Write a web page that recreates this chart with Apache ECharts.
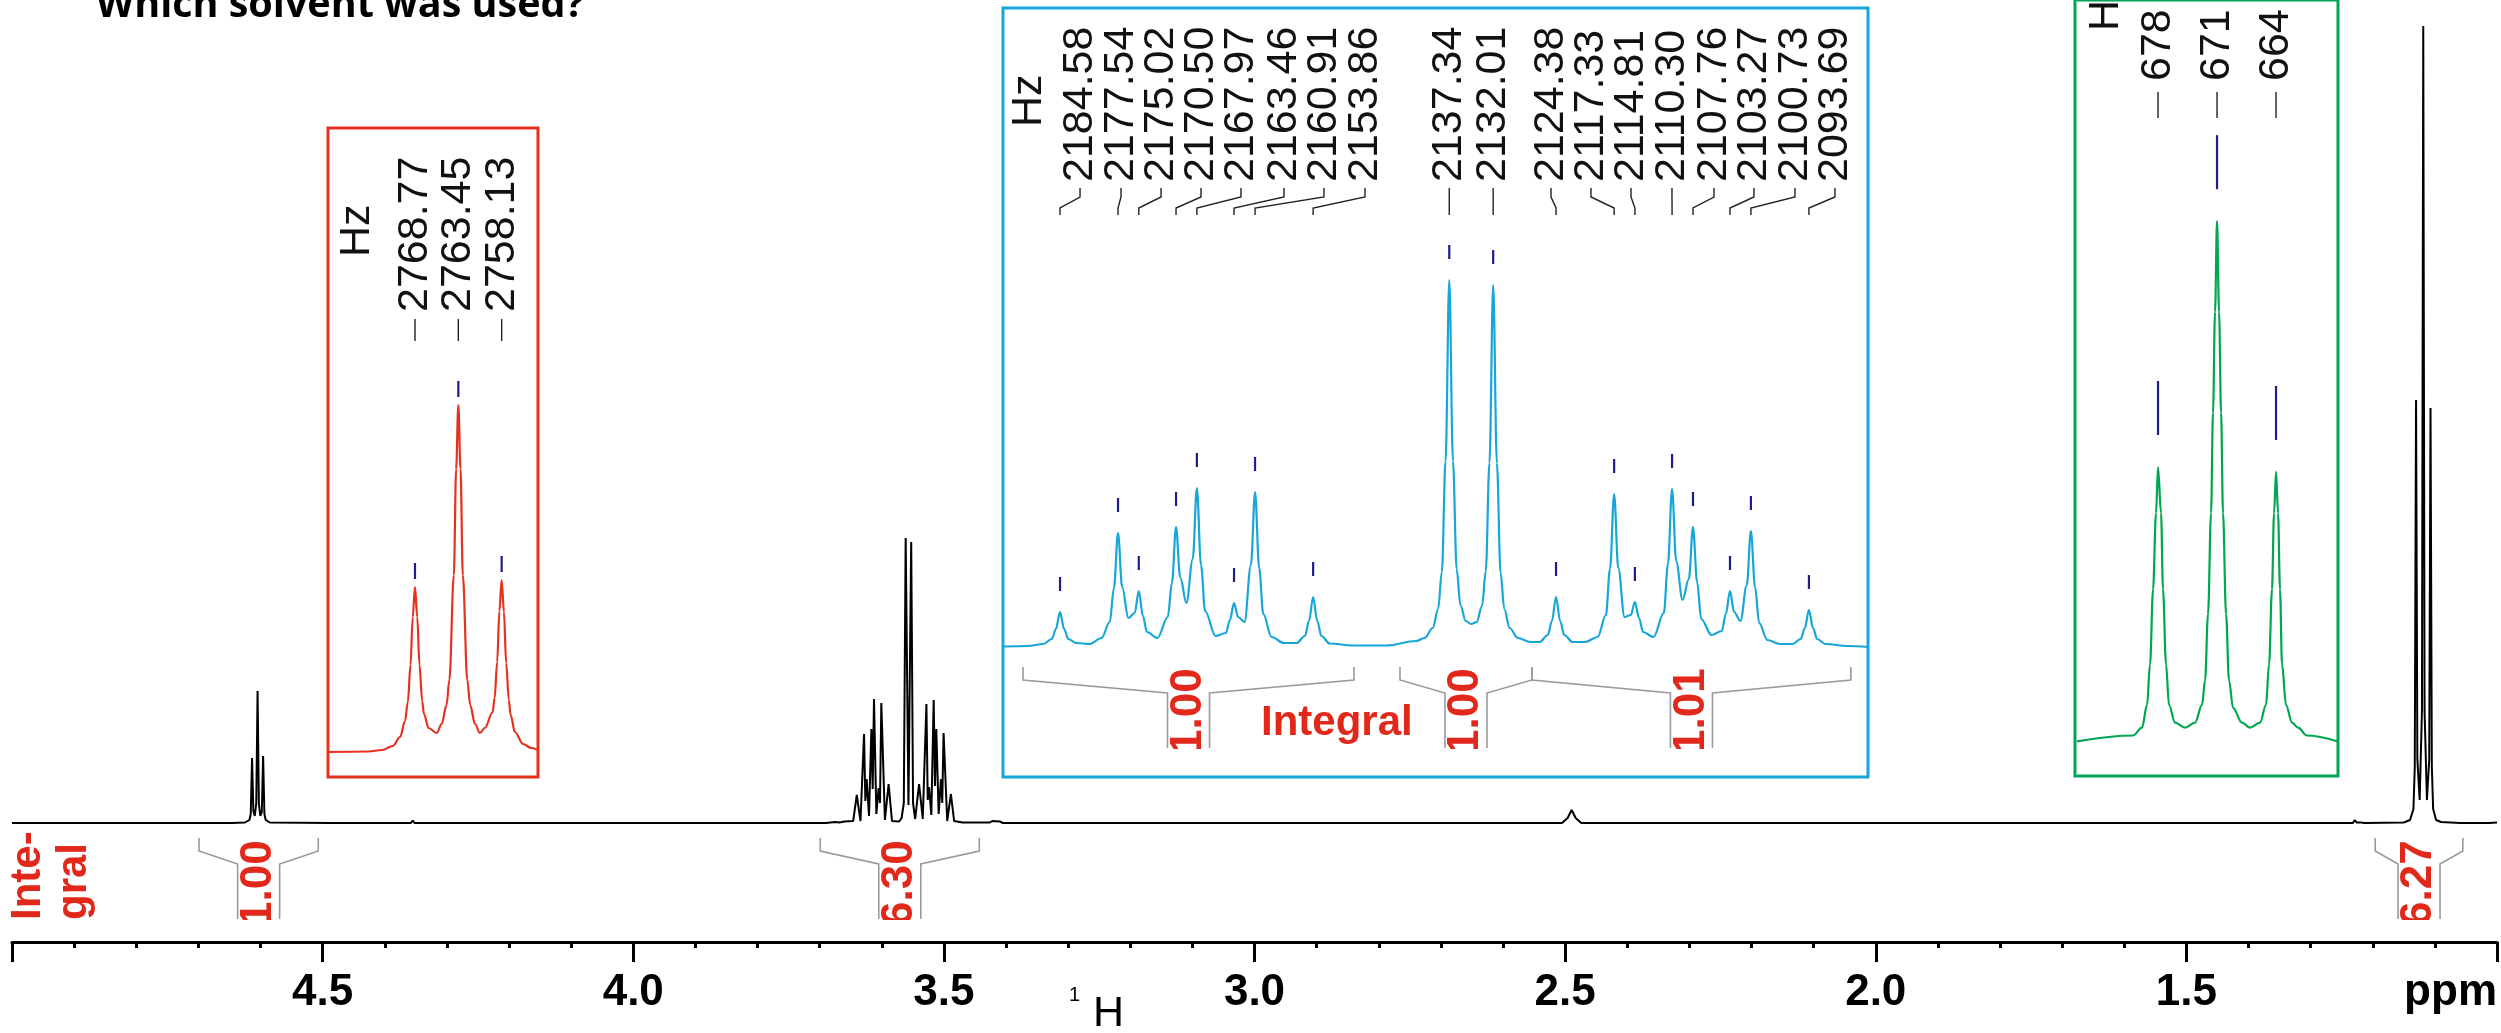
<!DOCTYPE html>
<html><head><meta charset="utf-8">
<script src="https://cdn.jsdelivr.net/npm/echarts@6/dist/echarts.min.js"></script>
<style>html,body{margin:0;padding:0;background:#fff}#c{width:2501px;height:1033px}</style>
</head><body><div id="c"></div>
<script>
// ---------------- DATA ----------------
// main 1H spectrum: [ppm, intensity]
const mainSpectrum = [
 [5.000,0],[4.737,0],[4.734,1.5],[4.731,0],[4.652,0],[4.649,1.5],[4.646,0],
 [4.625,0.5],[4.6178,3],[4.6157,9],[4.6136,65],[4.6115,12],[4.6092,7],[4.6068,20],[4.6047,132],[4.6026,19],[4.6003,7],[4.5979,11],[4.5958,67],[4.5937,9],[4.5916,3],[4.585,0.5],
 [4.490,0],[4.487,2],[4.484,0],[4.358,0],[4.355,2.5],[4.352,0],
 [3.690,0],[3.675,1],[3.668,0.5],[3.660,1.5],
 [3.646,2],[3.6402,28],[3.6342,2],[3.6285,89],[3.6264,22],[3.6243,44],[3.6205,7],[3.6167,94],[3.6146,34],[3.6125,124],[3.6087,9],[3.6050,35],[3.6028,20],[3.6007,120],[3.5949,3],[3.5890,39],[3.5835,2],
 [3.572,1.5],[3.568,5],[3.5645,20],[3.5615,285],[3.5570,18],[3.5526,281],[3.5496,20],[3.5462,4],[3.5399,39],[3.5340,4],[3.5281,119],[3.5260,23],[3.5239,36],[3.5202,8],[3.5164,123],[3.5143,37],[3.5122,94],[3.5084,9],[3.5047,44],[3.5026,20],[3.5005,90],[3.4946,2],[3.4887,29],[3.4835,2],
 [3.470,0.5],[3.432,0.5],[3.429,2],[3.426,0.5],[3.422,2],[3.419,0.5],[3.410,1.5],[3.405,0],
 [3.287,0],[3.284,1.5],[3.281,0],
 [2.505,0],[2.496,5],[2.4895,13],[2.483,5],[2.474,0],
 [2.067,0],[2.064,1],[2.061,0],[1.978,0],[1.975,2],[1.972,0],[1.900,0],[1.897,1],[1.894,0],
 [1.232,0],[1.229,3],[1.226,0.5],[1.219,0.5],[1.216,2],[1.213,0],
 [1.150,0.5],[1.140,3],[1.1345,14],[1.1324,55],[1.1303,423],[1.1282,64],[1.1245,23],[1.1208,112],[1.1187,797],[1.1166,112],[1.1128,23],[1.1091,63],[1.1070,415],[1.1049,57],[1.1028,14],[1.098,3],[1.090,1],
 [1.059,0],[1.056,1.5],[1.053,0],[1.049,0],[1.046,2],[1.043,0],[1.032,0],[1.029,2],[1.026,0],[1.019,0],[1.016,2],[1.013,0],[1.000,0.5]
];
const ppmMin = 1.0, ppmMax = 5.0, ppmStep = 0.5;

// red inset (Hz)
const redSpectrum = [
 [2779.45,0],[2774.5,0.5],[2772.8,2],[2771.5,6],[2770.6,15],[2770.0,31],[2769.65,50],[2769.32,87],[2769.05,135],[2768.77,165],
 [2768.49,135],[2768.22,87],[2767.89,51],[2767.67,38],[2767.1,24],[2766.1,19],[2765.5,28],[2764.9,47],[2764.55,72],[2764.0,177],[2763.72,283],[2763.45,347],
 [2763.18,283],[2762.9,177],[2762.35,72],[2762.0,47],[2761.4,28],[2760.8,19],[2760.2,24],[2759.23,40],[2759.0,54],[2758.68,90],[2758.41,141],[2758.13,172],
 [2757.85,140],[2757.58,89],[2757.25,52],[2757.03,37],[2756.5,20],[2755.5,8],[2754.5,4],[2753.67,2]
];
const redPeakHz = [2768.77, 2763.45, 2758.13];
const redPeakHeight = [165, 347, 172];
const redPeakLabel = ['2768.77', '2763.45', '2758.13'];

// blue inset (Hz)
const blueSpectrum = [
 [2191.5,0.5],[2188.5,1],[2186.6,3],[2185.58,8],[2185.08,18],[2184.58,35],[2184.08,18],[2183.58,8],[2182.6,4],[2181.0,3],
 [2179.54,9],[2178.54,25],[2178.04,59],[2177.54,114],[2177.04,60],[2176.28,29],[2175.52,34],[2175.02,56],[2174.52,31],[2174.02,15],[2172.76,9],
 [2171.5,30],[2171.0,64],[2170.5,120],[2170.0,70],[2169.24,44],[2168.47,88],[2167.97,159],[2167.47,82],[2166.97,36],[2165.7,11],
 [2164.46,14],[2163.96,27],[2163.46,44],[2162.96,30],[2162.19,25],[2161.41,82],[2160.91,155],[2160.41,79],[2159.91,33],[2158.91,10],[2157.4,4],
 [2155.86,4],[2154.86,11],[2154.36,26],[2153.86,50],[2153.36,26],[2152.86,11],[2151.86,3.5],[2149.0,1.5],[2145.0,1.5],
 [2141.34,6],[2140.34,9],[2139.34,19],[2138.69,38],[2138.24,75],[2137.79,186],[2137.34,367],[2136.89,186],[2136.44,78],[2135.99,42],[2135.34,26],[2134.68,23],
 [2134.01,25],[2133.36,41],[2132.91,76],[2132.46,184],[2132.01,362],[2131.56,184],[2131.11,74],[2130.66,38],[2130.01,19],[2129.01,9],[2127.5,5],
 [2126.38,5],[2125.38,12],[2124.88,26],[2124.38,50],[2123.88,26],[2123.38,12],[2122.38,5],[2120.86,5],
 [2119.33,10],[2118.33,32],[2117.83,78],[2117.33,153],[2116.83,79],[2116.07,30],[2115.31,32],[2114.81,45],[2114.31,29],[2113.81,15],[2112.55,10],
 [2111.3,34],[2110.8,83],[2110.3,158],[2109.8,86],[2109.03,47],[2108.26,68],[2107.76,120],[2107.26,65],[2106.76,28],[2105.52,12],
 [2104.27,16],[2103.77,33],[2103.27,56],[2102.77,35],[2102.0,26],[2101.23,62],[2100.73,116],[2100.23,60],[2099.73,24],[2098.73,7],[2097.2,3],
 [2095.69,3],[2094.69,8],[2094.19,19],[2093.69,37],[2093.19,19],[2092.69,8],[2091.69,3],[2089.0,1],[2086.52,0]
];
const bluePeakHz = [2184.58,2177.54,2175.02,2170.50,2167.97,2163.46,2160.91,2153.86,2137.34,2132.01,2124.38,2117.33,2114.81,2110.30,2107.76,2103.27,2100.73,2093.69];
const bluePeakHeight = [35,114,56,120,159,44,155,50,367,362,50,153,45,158,120,56,116,37];
const bluePeakLabel = ['2184.58','2177.54','2175.02','2170.50','2167.97','2163.46','2160.91','2153.86','2137.34','2132.01','2124.38','2117.33','2114.81','2110.30','2107.76','2103.27','2100.73','2093.69'];
// where each rotated label column sits (Hz), as drawn by the original peak picker
const blueLabelSlotHz = [2182.15,2177.18,2172.32,2167.47,2162.62,2157.40,2152.55,2147.57,2137.34,2132.01,2124.99,2120.14,2115.28,2110.31,2105.21,2100.36,2095.38,2090.53];
const blueIntegralRange = [[2189.07,2148.90],[2143.32,2127.30],[2127.30,2088.60]];
const blueIntegralValue = ['1.00','1.00','1.01'];

// green inset (Hz)
const greenSpectrum = [
 [687.96,0],[681.32,6],[680.25,14],[679.65,37],[679.30,78],[678.94,154],[678.59,231],[678.35,278],[677.99,231],[677.76,154],[677.40,78],[677.05,37],[676.33,19],[675.15,14],
 [673.96,19],[673.13,37],[672.77,62],[672.42,129],[672.06,231],[671.83,333],[671.59,435],[671.35,527],[671.11,435],[670.87,333],[670.64,231],[670.28,129],[669.93,62],[669.45,34],[668.39,19],[667.44,14],
 [666.25,19],[665.54,37],[665.18,78],[664.83,154],[664.59,231],[664.35,273],[664.11,231],[663.88,154],[663.64,78],[663.17,37],[662.45,19],[661.74,14],[660.68,6],[657.0,0]
];
const greenPeakHz = [678.35, 671.35, 664.35];
const greenPeakHeight = [278, 527, 273];
const greenPeakLabel = ['678', '671', '664'];

// main integrals
const mainIntegralRange = [[4.699,4.507],[3.699,3.443],[1.196,1.055]];
const mainIntegralValue = ['1.00','6.30','6.27'];

// ---------------- STYLE ----------------
const FF = '"Liberation Sans", Arial, sans-serif';
const RED = '#e5321f', BLUE = '#17a6d9', GREEN = '#00a651', NAVY = '#1d1d8c', GRAY = '#9a9a9a', ITXT = '#e2281b';
const LABEL_FONT = '43px ' + FF;
const INT_FONT = 'bold 44px ' + FF;

function peakLabelSeries(gi, hz, hts, labels, slots, L) {
  return {
    type: 'custom', xAxisIndex: gi, yAxisIndex: gi, clip: false, silent: true, z: 5,
    data: hz.map((h, i) => [h, hts[i], slots ? slots[i] : h]),
    renderItem(params, api) {
      const i = params.dataIndex, cs = params.coordSys;
      const pk = api.coord([api.value(0), api.value(1)]);
      const sx = api.coord([api.value(2), api.value(1)])[0];
      return { type: 'group', children: [
        { type: 'line', shape: { x1: pk[0], y1: pk[1] - L.mkA, x2: pk[0], y2: pk[1] - L.mkB }, style: { stroke: NAVY, lineWidth: 2.2 } },
        { type: 'polyline', shape: { points: [[sx, cs.y + L.cA], [sx, cs.y + L.cB], [pk[0], cs.y + L.cC], [pk[0], cs.y + L.cD]] }, style: { stroke: '#222', lineWidth: 1.4, fill: 'none' } },
        { type: 'text', x: sx, y: cs.y + L.tb, rotation: Math.PI / 2,
          style: { text: labels[i], font: LABEL_FONT, fill: '#111', align: 'left', verticalAlign: 'middle' } }
      ]};
    }
  };
}

function integralSeries(gi, ranges, values, L) {
  return {
    type: 'custom', xAxisIndex: gi, yAxisIndex: gi, clip: false, silent: true, z: 6,
    data: ranges.map(r => [r[0], r[1]]),
    renderItem(params, api) {
      const i = params.dataIndex;
      const p1 = api.coord([api.value(0), 0]), p2 = api.coord([api.value(1), 0]);
      const y0 = p1[1], x1 = p1[0], x2 = p2[0], cx = (x1 + x2) / 2, g = L.gap;
      const T = y0 + L.top, E = y0 + L.end, K = y0 + L.knee, B = y0 + L.bottom;
      const st = { stroke: GRAY, lineWidth: 1.6, fill: 'none' };
      return { type: 'group', children: [
        { type: 'polyline', shape: { points: [[x1, T], [x1, E], [cx - g, K], [cx - g, B]] }, style: st },
        { type: 'polyline', shape: { points: [[x2, T], [x2, E], [cx + g, K], [cx + g, B]] }, style: st },
        { type: 'text', x: cx, y: y0 + L.textStart, rotation: Math.PI / 2,
          style: { text: values[i], font: INT_FONT, fill: ITXT, align: 'left', verticalAlign: 'middle' } },
        { type: 'rect', shape: { x: cx - g + 1, y: B + 1, width: 2 * g - 2, height: L.mask }, style: { fill: '#fff' } }
      ]};
    }
  };
}

const chart = echarts.init(document.getElementById('c'), null, { renderer: 'canvas' });
const hidden = { show: false };
chart.setOption({
  animation: false,
  backgroundColor: '#fff',
  grid: [
    { left: 12, top: 0, width: 2485, height: 942 },
    { left: 328, top: 128, width: 210, height: 649, show: true, borderColor: RED, borderWidth: 3, backgroundColor: 'transparent' },
    { left: 1003, top: 8, width: 865, height: 769, show: true, borderColor: BLUE, borderWidth: 3, backgroundColor: 'transparent' },
    { left: 2075, top: -10, width: 263, height: 786, show: true, borderColor: GREEN, borderWidth: 3, backgroundColor: 'transparent' }
  ],
  xAxis: [
    { gridIndex: 0, type: 'value', min: ppmMin, max: ppmMax, interval: ppmStep, inverse: true,
      axisLine: { show: true, onZero: false, lineStyle: { color: '#000', width: 3 } },
      axisTick: { show: true, length: 20, lineStyle: { color: '#000', width: 3 } },
      minorTick: { show: true, splitNumber: 5, length: 6, lineStyle: { color: '#000', width: 3 } },
      splitLine: { show: false }, minorSplitLine: { show: false },
      axisLabel: { show: true, margin: 51, verticalAlign: 'middle', color: '#000', fontFamily: FF, fontWeight: 'bold', fontSize: 44,
        alignMinLabel: 'right',
        formatter: v => (Math.abs(v - ppmMax) < 1e-9 ? '' : (Math.abs(v - ppmMin) < 1e-9 ? 'ppm' : v.toFixed(1))) } },
    { gridIndex: 1, type: 'value', min: 2753.67, max: 2779.45, inverse: true, ...hidden },
    { gridIndex: 2, type: 'value', min: 2086.52, max: 2191.50, inverse: true, ...hidden },
    { gridIndex: 3, type: 'value', min: 657.0, max: 688.2, inverse: true, ...hidden }
  ],
  yAxis: [
    { gridIndex: 0, type: 'value', min: -119, max: 823, ...hidden },
    { gridIndex: 1, type: 'value', min: -25, max: 624, ...hidden },
    { gridIndex: 2, type: 'value', min: -130, max: 639, ...hidden },
    { gridIndex: 3, type: 'value', min: -35, max: 751, ...hidden }
  ],
  series: [
    { type: 'line', xAxisIndex: 0, yAxisIndex: 0, data: mainSpectrum, showSymbol: false, symbol: 'none',
      lineStyle: { color: '#000', width: 2 }, silent: true, z: 3 },
    { type: 'line', xAxisIndex: 1, yAxisIndex: 1, data: redSpectrum, showSymbol: false, symbol: 'none', smooth: 0.35, smoothMonotone: 'x',
      lineStyle: { color: RED, width: 2.2 }, silent: true },
    { type: 'line', xAxisIndex: 2, yAxisIndex: 2, data: blueSpectrum, showSymbol: false, symbol: 'none', smooth: 0.35, smoothMonotone: 'x',
      lineStyle: { color: BLUE, width: 2.2 }, silent: true },
    { type: 'line', xAxisIndex: 3, yAxisIndex: 3, data: greenSpectrum, showSymbol: false, symbol: 'none', smooth: 0.35, smoothMonotone: 'x',
      lineStyle: { color: GREEN, width: 2.2 }, silent: true },
    peakLabelSeries(1, redPeakHz, redPeakHeight, redPeakLabel, null, { mkA: 24, mkB: 8, cA: 191, cB: 191, cC: 213, cD: 213, tb: 184 }),
    peakLabelSeries(2, bluePeakHz, bluePeakHeight, bluePeakLabel, blueLabelSlotHz, { mkA: 35, mkB: 21, cA: 180, cB: 189, cC: 200, cD: 207, tb: 174 }),
    peakLabelSeries(3, greenPeakHz, greenPeakHeight, greenPeakLabel, null, { mkA: 86, mkB: 32, cA: 92, cB: 92, cC: 118, cD: 118, tb: 81 }),
    integralSeries(0, mainIntegralRange, mainIntegralValue, { top: 15, end: 28, knee: 41, bottom: 96, gap: 21, textStart: 103, mask: 16 }),
    integralSeries(2, blueIntegralRange, blueIntegralValue, { top: 20, end: 33, knee: 46, bottom: 101, gap: 21, textStart: 107, mask: 16 })
  ],
  graphic: [
    { type: 'text', x: 96, y: 6, silent: true, style: { text: 'Which solvent was used?', font: 'bold 39.5px "Open Sans"', fill: '#000', align: 'left', verticalAlign: 'middle' } },
    { type: 'text', x: 5.5, y: 920, rotation: Math.PI / 2, silent: true, style: { text: 'Inte-\ngral', font: 'bold 42px ' + FF, lineHeight: 46, fill: ITXT, align: 'left', verticalAlign: 'top' } },
    { type: 'text', x: 1069, y: 995, silent: true, style: { text: '1', font: '20px ' + FF, fill: '#000', align: 'left', verticalAlign: 'middle' } },
    { type: 'text', x: 1093, y: 1014, silent: true, style: { text: 'H', font: '43px ' + FF, fill: '#000', align: 'left', verticalAlign: 'middle' } },
    { type: 'text', x: 1261, y: 723, silent: true, style: { text: 'Integral', font: 'bold 42px ' + FF, fill: ITXT, align: 'left', verticalAlign: 'middle' } },
    { type: 'text', x: 357, y: 257, rotation: Math.PI / 2, silent: true, style: { text: 'Hz', font: LABEL_FONT, fill: '#111', align: 'left', verticalAlign: 'middle' } },
    { type: 'text', x: 1029, y: 127, rotation: Math.PI / 2, silent: true, style: { text: 'Hz', font: LABEL_FONT, fill: '#111', align: 'left', verticalAlign: 'middle' } },
    { type: 'text', x: 2106, y: 31, rotation: Math.PI / 2, silent: true, style: { text: 'Hz', font: LABEL_FONT, fill: '#111', align: 'left', verticalAlign: 'middle' } }
  ]
});
</script>
</body></html>
